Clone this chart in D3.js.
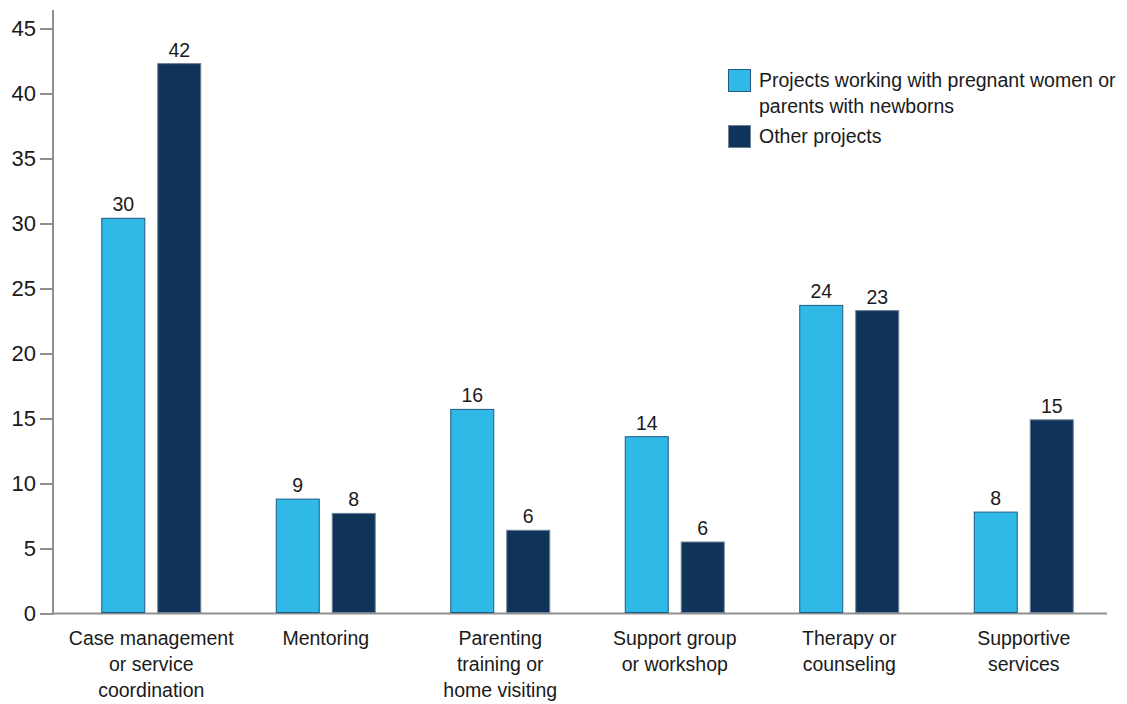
<!DOCTYPE html>
<html>
<head>
<meta charset="utf-8">
<script src="https://cdn.jsdelivr.net/npm/d3@7"></script>
<style>
  html, body { margin: 0; padding: 0; background: #ffffff; }
  svg { display: block; font-family: "Liberation Sans", Arial, sans-serif; }
</style>
</head>
<body>
<svg id="chart" width="1127" height="704"></svg>
<script>
// Service categories (each entry is one line of the wrapped axis label)
const categories = [
  ["Case management", "or service", "coordination"],
  ["Mentoring"],
  ["Parenting", "training or", "home visiting"],
  ["Support group", "or workshop"],
  ["Therapy or", "counseling"],
  ["Supportive", "services"]
];

const seriesNames = [
  "Projects working with pregnant women or parents with newborns",
  "Other projects"
];

// Percent of projects offering each service
const pregnantParentsValues = [30.4, 8.8, 15.7, 13.6, 23.7, 7.8];
const otherProjectsValues   = [42.3, 7.7, 6.4, 5.5, 23.3, 14.9];

const yTicks = [0, 5, 10, 15, 20, 25, 30, 35, 40, 45];

const legendLines = [
  ["Projects working with pregnant women or", "parents with newborns"],
  ["Other projects"]
];

const colors = ["#30b8e6", "#0f3359"];
const strokes = ["#1d5a86", "#6f8197"];

const svg = d3.select("#chart");
const catKeys = categories.map(c => c.join(" "));

const x0 = d3.scaleBand()
  .domain(catKeys)
  .range([64, 1111])
  .paddingInner(0.427)
  .paddingOuter(0.2135);

const x1 = d3.scaleBand()
  .domain([0, 1])
  .range([0, x0.bandwidth()])
  .paddingInner(0.214);

const y = d3.scaleLinear()
  .domain([0, 45])
  .range([613.5, 28.5]);

const axisX = 53;

// Y axis ticks and labels
const yAxis = svg.append("g")
  .attr("transform", `translate(${axisX},0)`)
  .call(d3.axisLeft(y).tickValues(yTicks).tickSize(13).tickPadding(4));
yAxis.select(".domain").remove();
yAxis.selectAll(".tick line").attr("stroke", "#8f8f8f").attr("stroke-width", 2);
yAxis.selectAll(".tick text")
  .attr("fill", "#1a1a1a")
  .style("font-size", "22px")
  .style("font-family", "'Liberation Sans', Arial, sans-serif");

// Axis lines
svg.append("line")
  .attr("x1", axisX).attr("x2", axisX)
  .attr("y1", 10).attr("y2", y(0) + 1)
  .attr("stroke", "#8f8f8f").attr("stroke-width", 2);
svg.append("line")
  .attr("x1", axisX).attr("x2", 1107)
  .attr("y1", y(0)).attr("y2", y(0))
  .attr("stroke", "#8f8f8f").attr("stroke-width", 2);

// Bars
const rows = catKeys.map((k, i) => ({
  key: k,
  values: [pregnantParentsValues[i], otherProjectsValues[i]]
}));

const groups = svg.append("g").selectAll("g")
  .data(rows)
  .join("g")
  .attr("transform", d => `translate(${x0(d.key)},0)`);

groups.selectAll("rect")
  .data(d => d.values.map((v, s) => ({ v, s })))
  .join("rect")
  .attr("x", d => x1(d.s) + 0.5)
  .attr("width", x1.bandwidth() - 1)
  .attr("y", d => y(d.v))
  .attr("height", d => y(0) - 1 - y(d.v))
  .attr("fill", d => colors[d.s])
  .attr("stroke", d => strokes[d.s])
  .attr("stroke-width", 1);

// Value labels
groups.selectAll("text.value")
  .data(d => d.values.map((v, s) => ({ v, s })))
  .join("text")
  .attr("class", "value")
  .attr("x", d => x1(d.s) + x1.bandwidth() / 2)
  .attr("y", d => y(d.v) - 7)
  .attr("text-anchor", "middle")
  .attr("fill", "#1a1a1a")
  .style("font-size", "19.5px")
  .text(d => d3.format(".0f")(d.v));

// Category labels
const catLabels = svg.append("g").selectAll("text")
  .data(categories)
  .join("text")
  .attr("text-anchor", "middle")
  .attr("fill", "#1a1a1a")
  .style("font-size", "19.5px");
catLabels.selectAll("tspan")
  .data((d, i) => d.map(line => ({ line, i })))
  .join("tspan")
  .attr("x", d => x0(catKeys[d.i]) + x0.bandwidth() / 2)
  .attr("y", (d, j) => 645 + j * 26)
  .text(d => d.line);

// Legend
const legend = svg.append("g").attr("transform", "translate(728,69)");
const legendOffsets = [0, 56];
legendLines.forEach((lines, s) => {
  const g = legend.append("g").attr("transform", `translate(0,${legendOffsets[s]})`);
  g.append("rect")
    .attr("x", 0.5).attr("y", 0.5)
    .attr("width", 22).attr("height", 22)
    .attr("fill", colors[s])
    .attr("stroke", strokes[s]).attr("stroke-width", 1);
  const t = g.append("text")
    .attr("fill", "#1a1a1a")
    .style("font-size", "19.5px");
  lines.forEach((line, j) => {
    t.append("tspan")
      .attr("x", 31)
      .attr("y", 18 + j * 25.5)
      .text(line);
  });
});
</script>
</body>
</html>
